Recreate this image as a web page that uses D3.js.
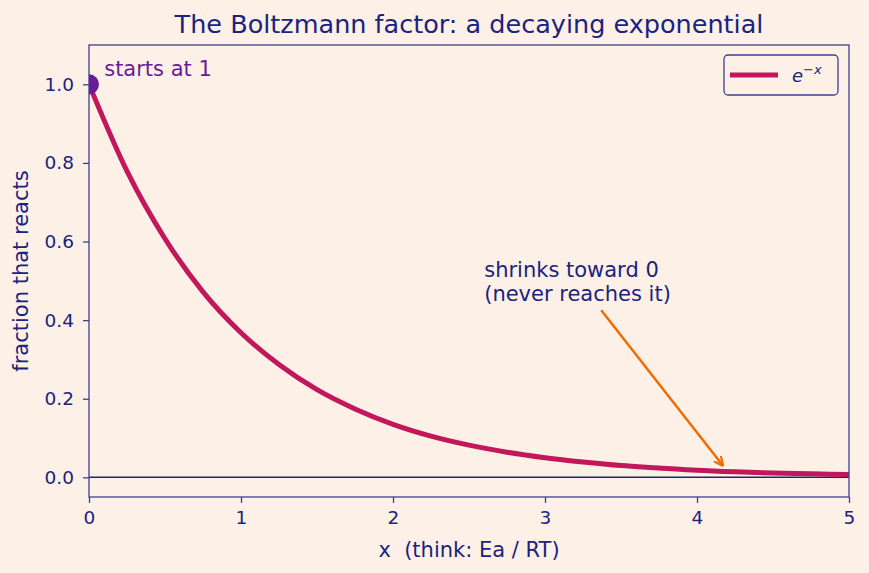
<html>
<head>
  <title>Boltzmann factor</title>
  <script src="https://d3js.org/d3.v7.min.js"></script>
  <style>
    body { margin: 0; background: #fdf1e7; }
    text { font-family: 'DejaVu Sans', sans-serif; }
  </style>
</head>
<body>
  <div id="vis"></div>
  <script type="text/javascript">

    // Points
    var xs = [0, 0.25, 0.5, 0.75, 1, 1.25, 1.5, 1.75, 2, 2.25, 2.5, 2.75, 3, 3.25, 3.5, 3.75, 4, 4.25, 4.5, 4.75, 5];
    var ys = [1.0, 0.779, 0.607, 0.472, 0.368, 0.287, 0.223, 0.174, 0.135, 0.105, 0.082, 0.064, 0.050, 0.039, 0.030, 0.024, 0.018, 0.014, 0.011, 0.009, 0.007];
    var xTicks = [0, 1, 2, 3, 4, 5];
    var yTicks = [0.0, 0.2, 0.4, 0.6, 0.8, 1.0];
    var startPoint = [0, 1];
    var arrowFrom = [3.37, 0.425];
    var arrowTo = [4.17, 0.03];

    var navy = '#1a237e';
    var spine = '#3f3f8f';

    var margin = {top: 45, right: 20, bottom: 76, left: 89};
    var fullW = 869, fullH = 573;
    var width = fullW - margin.left - margin.right;
    var height = fullH - margin.top - margin.bottom;

    var x = d3.scaleLinear().domain([0, 5]).range([0, width]);
    var y = d3.scaleLinear().domain([-0.05, 1.1]).range([height, 0]);

    var svg = d3.select('#vis').append('svg')
                .attr('width', fullW)
                .attr('height', fullH)
                .style('background', '#fdf1e7');

    var defs = svg.append('defs');
    defs.append('clipPath').attr('id', 'plot-clip')
        .append('rect').attr('width', width).attr('height', height);

    var g = svg.append('g').attr('transform', 'translate(' + margin.left + ',' + margin.top + ')');

    // zero line
    g.append('line')
       .attr('x1', 0).attr('x2', width)
       .attr('y1', y(0)).attr('y2', y(0))
       .style('stroke', navy).style('stroke-width', 1.5);

    var plot = g.append('g').attr('clip-path', 'url(#plot-clip)');

    // curve
    var line = d3.line()
                 .x(function(d, i) { return x(xs[i]); })
                 .y(function(d) { return y(d); })
                 .curve(d3.curveMonotoneX);

    plot.append('path')
       .attr('d', line(ys))
       .style('fill', 'none')
       .style('stroke', '#c2185b')
       .style('stroke-width', 5);

    // start dot
    plot.append('circle')
       .attr('cx', x(startPoint[0])).attr('cy', y(startPoint[1]))
       .attr('r', 10)
       .style('fill', '#6a1b9a');

    g.append('text')
       .attr('x', x(0.1)).attr('y', y(1.02))
       .text('starts at 1')
       .style('font-size', '21px')
       .style('fill', '#6a1b9a');

    // arrow annotation
    defs.append('marker')
         .attr('id', 'head')
         .attr('viewBox', '0 0 10 10')
         .attr('refX', 9).attr('refY', 5)
         .attr('markerWidth', 4).attr('markerHeight', 4)
         .attr('markerUnits', 'strokeWidth')
         .attr('orient', 'auto')
       .append('path')
         .attr('d', 'M0,0.5 L9.5,5 L0,9.5')
         .style('fill', 'none')
         .style('stroke', '#ef6c00')
         .style('stroke-width', 2.2);

    g.append('line')
       .attr('x1', x(arrowFrom[0])).attr('y1', y(arrowFrom[1]))
       .attr('x2', x(arrowTo[0])).attr('y2', y(arrowTo[1]))
       .style('stroke', '#ef6c00')
       .style('stroke-width', 2.5)
       .attr('marker-end', 'url(#head)');

    var note = g.append('text')
                .attr('x', x(2.6)).attr('y', y(0.51))
                .style('font-size', '21px')
                .style('fill', navy);
    note.append('tspan').attr('x', x(2.6)).text('shrinks toward 0');
    note.append('tspan').attr('x', x(2.6)).attr('dy', 24.5).text('(never reaches it)');

    // axes
    var xAxis = g.append('g')
                   .attr('transform', 'translate(0,' + height + ')')
                   .call(d3.axisBottom(x).tickValues(xTicks).tickFormat(d3.format('d')).tickSize(6).tickPadding(8));
    var yAxis = g.append('g')
                   .call(d3.axisLeft(y).tickValues(yTicks).tickFormat(d3.format('.1f')).tickSize(6).tickPadding(9));

    [xAxis, yAxis].forEach(function(a) {
      a.select('.domain').remove();
      a.selectAll('line').style('stroke', spine).style('stroke-width', 1.3);
      a.selectAll('text').style('fill', navy).style('font-size', '18.5px').style('font-family', 'DejaVu Sans, sans-serif');
    });

    // frame
    g.append('rect')
       .attr('width', width).attr('height', height)
       .style('fill', 'none')
       .style('stroke', spine)
       .style('stroke-width', 1.3);

    // labels
    svg.append('text')
         .attr('x', margin.left + width / 2).attr('y', 33)
         .attr('text-anchor', 'middle')
         .text('The Boltzmann factor: a decaying exponential')
         .style('font-size', '25.5px')
         .style('fill', navy);

    svg.append('text')
         .attr('x', margin.left + width / 2).attr('y', 557)
         .attr('text-anchor', 'middle')
         .attr('xml:space', 'preserve')
         .style('white-space', 'pre')
         .text('x  (think: Ea / RT)')
         .style('font-size', '21px')
         .style('fill', navy);

    svg.append('text')
         .attr('transform', 'rotate(-90)')
         .attr('x', -(margin.top + height / 2)).attr('y', 28)
         .attr('text-anchor', 'middle')
         .text('fraction that reacts')
         .style('font-size', '21px')
         .style('fill', navy);

    // legend
    var legend = g.append('g').attr('transform', 'translate(' + (width - 125) + ',10)');
    legend.append('rect')
            .attr('width', 114).attr('height', 40)
            .attr('rx', 4)
            .style('fill', '#fdf1e7')
            .style('stroke', spine)
            .style('stroke-width', 1.3);
    legend.append('line')
            .attr('x1', 6).attr('x2', 54)
            .attr('y1', 20).attr('y2', 20)
            .style('stroke', '#c2185b')
            .style('stroke-width', 5);
    var lt = legend.append('text')
                     .attr('x', 68).attr('y', 27)
                     .style('font-size', '18px')
                     .style('font-style', 'italic')
                     .style('fill', navy);
    lt.append('tspan').text('e');
    lt.append('tspan').attr('dy', -8).style('font-size', '13px').text('\u2212x');

  </script>
</body>
</html>
